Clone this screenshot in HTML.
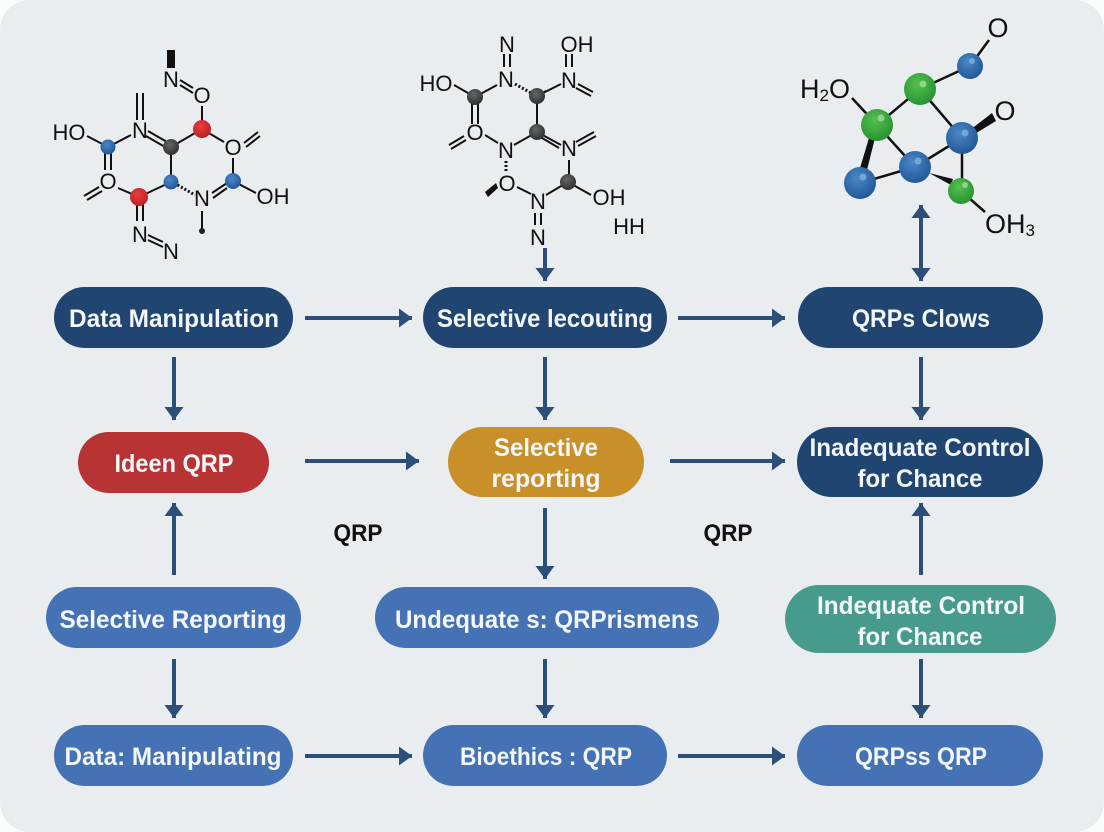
<!DOCTYPE html>
<html><head><meta charset="utf-8"><style>
html,body{margin:0;padding:0;background:#fff}
svg{display:block}
.l{font-family:"Liberation Sans",sans-serif;fill:#111;font-size:22px;text-anchor:middle}
.p{font-family:"Liberation Sans",sans-serif;fill:#f4f7fa;font-size:25px;font-weight:bold;text-anchor:middle}
.b{stroke:#111;stroke-width:2;fill:none}
.a{stroke:#2b4f78;stroke-width:4;fill:none;marker-end:url(#h)}
</style></head><body>
<svg width="1104" height="832" viewBox="0 0 1104 832" xmlns="http://www.w3.org/2000/svg">
<defs>
<marker id="h" markerUnits="userSpaceOnUse" markerWidth="16" markerHeight="22" refX="13" refY="10" orient="auto"><path d="M0 .5L13 10L0 19.5Z" fill="#2b4f78"/></marker>
<marker id="hs" markerUnits="userSpaceOnUse" markerWidth="16" markerHeight="22" refX="0" refY="10" orient="auto"><path d="M13 .5L0 10L13 19.5Z" fill="#2b4f78"/></marker>
<radialGradient id="re" cx=".42" cy=".35" r=".7"><stop offset="0" stop-color="#ee3d3d"/><stop offset="1" stop-color="#b51f25"/></radialGradient>
<radialGradient id="bl" cx=".42" cy=".35" r=".7"><stop offset="0" stop-color="#4a88c8"/><stop offset="1" stop-color="#1f5494"/></radialGradient>
<radialGradient id="dk" cx=".42" cy=".35" r=".7"><stop offset="0" stop-color="#666"/><stop offset="1" stop-color="#2c2c2c"/></radialGradient>
<radialGradient id="gr" cx=".42" cy=".35" r=".7"><stop offset="0" stop-color="#55c04e"/><stop offset="1" stop-color="#249030"/></radialGradient>
</defs>
<rect width="1104" height="832" fill="#fbfcfd"/>
<rect x="0" y="0" width="1104" height="832" rx="30" fill="#e9edf0"/>

<!-- molecule 1 -->
<rect x="167" y="50" width="8" height="18" fill="#111"/>
<path class="b" d="M180 80L193 88M180 85L193 93M202 106V121M202 129L171 147M202 129L224 142M233 158V181M233 181L256 193M212 193L227 183M213 198L227 188M171 147V182M148 131L167 142M146 136L165 147M137 120V93M143 120V93M131 135L108 147M108 147L87 136M105 147V170M111 147V170M99 187L84 196M102 191L87 200M118 188L139 197M139 197L171 182M137 197V221M143 197V221M148 235L163 242M148 240L163 247M202 211V231M244 143L258 132M246 147L260 136"/>
<path d="M174 183L195 195" stroke="#111" stroke-width="3" stroke-dasharray="2 2" fill="none"/>
<circle cx="202" cy="231" r="3" fill="#222"/>
<circle cx="108" cy="147" r="7.5" fill="url(#bl)"/><circle cx="202" cy="129" r="9" fill="url(#re)"/><circle cx="171" cy="147" r="8" fill="url(#dk)"/><circle cx="139" cy="197" r="9" fill="url(#re)"/><circle cx="171" cy="182" r="7.5" fill="url(#bl)"/><circle cx="233" cy="181" r="8" fill="url(#bl)"/>
<text class="l" x="171" y="87">N</text><text class="l" x="202" y="103">O</text><text class="l" x="140" y="138">N</text><text class="l" x="69" y="140">HO</text><text class="l" x="233" y="155">O</text><text class="l" x="108" y="189">O</text><text class="l" x="202" y="206">N</text><text class="l" x="273" y="204">OH</text><text class="l" x="140" y="242">N</text><text class="l" x="171" y="259">N</text>

<!-- molecule 2 -->
<path class="b" d="M504 54V67M510 54V67M566 54V67M572 54V67M454 85L475 97M475 97L497 85M472 97V124M478 97V124M546 91L537 96M537 96L561 84M537 96V132M578 84L593 92M576 88L591 96M464 136L449 145M466 140L451 149M485 135L498 143M537 132L514 145M537 132L561 145M537 135L559 148M576 142L594 132M578 146L596 136M569 160V182M568 182L546 195M568 182L591 195M517 187L531 194M535 213V225M541 213V225"/>
<path d="M515 84L533 94M506 161V172" stroke="#111" stroke-width="3" stroke-dasharray="2 2" fill="none"/>
<path d="M485 192L488 197L498 188L496 183Z" fill="#111"/>
<circle cx="475" cy="97" r="8" fill="url(#dk)"/><circle cx="537" cy="96" r="8" fill="url(#dk)"/><circle cx="537" cy="132" r="8" fill="url(#dk)"/><circle cx="568" cy="182" r="8" fill="url(#dk)"/>
<text class="l" x="507" y="52">N</text><text class="l" x="577" y="52">OH</text><text class="l" x="506" y="87">N</text><text class="l" x="569" y="88">N</text><text class="l" x="436" y="91">HO</text><text class="l" x="475" y="140">O</text><text class="l" x="569" y="156">N</text><text class="l" x="506" y="158">N</text><text class="l" x="507" y="191">O</text><text class="l" x="538" y="209">N</text><text class="l" x="609" y="205">OH</text><text class="l" x="629" y="234">HH</text><text class="l" x="538" y="245">N</text>

<!-- molecule 3 -->
<path d="M970 66L920 89M970 66L989 40M920 89L877 125M920 89L962 138M852 98L877 125M877 125L915 167M915 167L962 138M915 167L860 183M962 138V191M961 191L985 212" stroke="#111" stroke-width="2.5" fill="none"/>
<path d="M869 138L875 138L867 170L860 168ZM970 130L992 113L996 121L973 135ZM929 173L953 179L951 185Z" fill="#111"/>
<circle cx="970" cy="66" r="13" fill="url(#bl)"/><circle cx="920" cy="89" r="16" fill="url(#gr)"/><circle cx="877" cy="125" r="16" fill="url(#gr)"/><circle cx="962" cy="138" r="16" fill="url(#bl)"/><circle cx="915" cy="167" r="16" fill="url(#bl)"/><circle cx="860" cy="183" r="16" fill="url(#bl)"/><circle cx="961" cy="191" r="13" fill="url(#gr)"/>
<circle cx="972" cy="61" r="3" fill="#8fb8e0" opacity=".7"/><circle cx="923" cy="84" r="3.5" fill="#b2e0ae" opacity=".7"/><circle cx="881" cy="118" r="3.5" fill="#b2e0ae" opacity=".7"/><circle cx="965" cy="133" r="3.5" fill="#8fb8e0" opacity=".7"/><circle cx="918" cy="161" r="3.5" fill="#8fb8e0" opacity=".7"/><circle cx="863" cy="177" r="3.5" fill="#8fb8e0" opacity=".7"/><circle cx="965" cy="185" r="3" fill="#b2e0ae" opacity=".7"/>
<text class="l" x="998" y="37" style="font-size:27px">O</text><text class="l" x="1005" y="120" style="font-size:27px">O</text>
<text class="l" x="825" y="98" style="font-size:27px">H<tspan font-size="17" dy="3">2</tspan><tspan dy="-3">O</tspan></text>
<text class="l" x="1010" y="233" style="font-size:27px">OH<tspan font-size="17" dy="3">3</tspan></text>

<!-- pills -->
<rect x="54" y="287" width="239" height="61" rx="30.5" fill="#1f4570"/>
<rect x="423" y="287" width="244" height="61" rx="30.5" fill="#1f4570"/>
<rect x="798" y="287" width="245" height="61" rx="30.5" fill="#1f4570"/>
<rect x="78" y="432" width="191" height="61" rx="30.5" fill="#b83434"/>
<rect x="448" y="427" width="196" height="70" rx="35" fill="#c9902a"/>
<rect x="797" y="427" width="246" height="70" rx="35" fill="#1f4570"/>
<rect x="46" y="587" width="255" height="61" rx="30.5" fill="#4472b5"/>
<rect x="375" y="587" width="344" height="61" rx="30.5" fill="#4472b5"/>
<rect x="785" y="585" width="271" height="68" rx="34" fill="#479b8c"/>
<rect x="54" y="725" width="239" height="61" rx="30.5" fill="#4472b5"/>
<rect x="423" y="725" width="244" height="61" rx="30.5" fill="#4472b5"/>
<rect x="797" y="725" width="246" height="61" rx="30.5" fill="#4472b5"/>

<text class="p" x="174" y="327" textLength="210" lengthAdjust="spacingAndGlyphs">Data Manipulation</text>
<text class="p" x="545" y="327" textLength="216" lengthAdjust="spacingAndGlyphs">Selective lecouting</text>
<text class="p" x="921" y="327" textLength="138" lengthAdjust="spacingAndGlyphs">QRPs Clows</text>
<text class="p" x="174" y="472" textLength="119" lengthAdjust="spacingAndGlyphs">Ideen QRP</text>
<text class="p" x="546" y="456" textLength="104" lengthAdjust="spacingAndGlyphs">Selective</text>
<text class="p" x="546" y="487" textLength="109" lengthAdjust="spacingAndGlyphs">reporting</text>
<text class="p" x="920" y="456" textLength="221" lengthAdjust="spacingAndGlyphs">Inadequate Control</text>
<text class="p" x="920" y="487" textLength="125" lengthAdjust="spacingAndGlyphs">for Chance</text>
<text class="p" x="173" y="628" textLength="227" lengthAdjust="spacingAndGlyphs">Selective Reporting</text>
<text class="p" x="547" y="628" textLength="304" lengthAdjust="spacingAndGlyphs">Undequate s: QRPrismens</text>
<text class="p" x="921" y="614" textLength="208" lengthAdjust="spacingAndGlyphs">Indequate Control</text>
<text class="p" x="920" y="645" textLength="125" lengthAdjust="spacingAndGlyphs">for Chance</text>
<text class="p" x="173" y="765" textLength="217" lengthAdjust="spacingAndGlyphs">Data: Manipulating</text>
<text class="p" x="546" y="765" textLength="172" lengthAdjust="spacingAndGlyphs">Bioethics : QRP</text>
<text class="p" x="921" y="765" textLength="132" lengthAdjust="spacingAndGlyphs">QRPss QRP</text>

<text x="358" y="541" font-family="Liberation Sans,sans-serif" font-weight="bold" font-size="24" fill="#111" text-anchor="middle" textLength="49" lengthAdjust="spacingAndGlyphs">QRP</text>
<text x="728" y="541" font-family="Liberation Sans,sans-serif" font-weight="bold" font-size="24" fill="#111" text-anchor="middle" textLength="49" lengthAdjust="spacingAndGlyphs">QRP</text>

<!-- arrows -->
<path class="a" d="M305 318H412"/><path class="a" d="M678 318H785"/>
<path class="a" d="M305 461H419"/><path class="a" d="M670 461H785"/>
<path class="a" d="M305 756H412"/><path class="a" d="M678 756H785"/>
<path class="a" d="M174 357V420"/><path class="a" d="M545 357V420"/><path class="a" d="M921 357V420"/>
<path class="a" d="M174 575V503"/><path class="a" d="M545 508V579"/><path class="a" d="M921 575V503"/>
<path class="a" d="M174 659V718"/><path class="a" d="M545 659V718"/><path class="a" d="M921 659V718"/>
<path class="a" d="M545 248V281"/>
<path class="a" style="marker-start:url(#hs)" d="M921 205V281"/>
</svg>
</body></html>
